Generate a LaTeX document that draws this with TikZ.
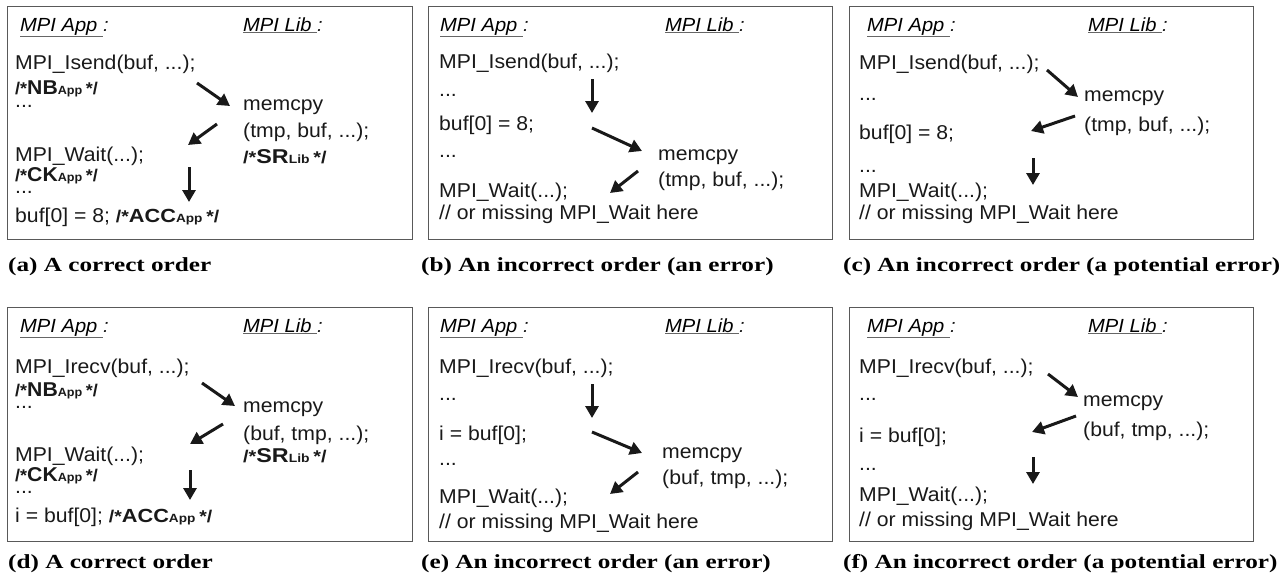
\documentclass[tikz,border=0pt]{standalone}
\usepackage{fontspec}
\usepackage{graphicx}
\setmainfont{Liberation Sans}[FakeStretch=1.06]
\newfontfamily\capfont{Liberation Serif}[FakeStretch=1.26]
\usetikzlibrary{arrows.meta}
\newcommand\cmtline[5]{\scalebox{#5}[1]{\textbf{{\fontsize{#1}{#1}\selectfont/*}{\fontsize{#2}{#2}\selectfont #3}{\fontsize{#1}{#1}\selectfont\fontsize{0.7\dimexpr#1pt\relax}{#1}\selectfont #4\ }{\fontsize{#1}{#1}\selectfont */}}}}
\newcommand\hdrtext[1]{{\color{black!60}\underline{\color{black}#1\ }}:}
\tikzset{
  panel/.style={draw=black!65, line width=1pt},
  txt/.style={anchor=base west, inner sep=0pt, text=black!90, font=\fontsize{20}{22}\selectfont},
  hdr/.style={anchor=base west, inner sep=0pt, text=black!90, font=\fontsize{19}{22}\selectfont\itshape},
  captxt/.style={anchor=base west, inner sep=0pt, font=\capfont\bfseries\fontsize{20}{24}\selectfont},
  flow/.style={-{Triangle[length=12pt,width=13pt]}, line width=3pt, draw=black!90},
}
\begin{document}
\begin{tikzpicture}[x=1pt,y=-1pt]
\useasboundingbox (0,0) rectangle (1282,579);
% ---------------- (a)
\draw[panel] (7,6) rectangle (412,239);
\node[hdr] (aH1) at (20,31) {\hdrtext{MPI App}};
\node[hdr] (aH2) at (243,31) {\hdrtext{MPI Lib}};
\node[txt] (a1) at (15,69) {MPI\_Isend(buf, ...);};
\node[txt] (a2) at (15,94) {\cmtline{17}{20}{NB}{App}{1.0}};
\node[txt] (a3) at (15,107) {...};
\node[txt] (a4) at (243,110) {memcpy};
\node[txt] (a5) at (243,137) {(tmp, buf, ...);};
\node[txt] (a6) at (243,163) {\cmtline{17}{20}{SR}{Lib}{1.1}};
\node[txt] (a7) at (15,161) {MPI\_Wait(...);};
\node[txt] (a8) at (15,181) {\cmtline{17}{20}{CK}{App}{1.0}};
\node[txt] (a9) at (15,193) {...};
\node[txt] (a10) at (15,222) {buf[0] = 8; \cmtline{17}{19}{ACC}{App}{1.08}};
\coordinate (aP1) at (197,83); \coordinate (aQ1) at (230,106);
\coordinate (aP2) at (217,124); \coordinate (aQ2) at (188,145);
\coordinate (aP3) at (189,167); \coordinate (aQ3) at (189,202);
\draw[flow] (aP1) -- (aQ1);
\draw[flow] (aP2) -- (aQ2);
\draw[flow] (aP3) -- (aQ3);
\node[captxt] (capa) at (8,271) {(a) A correct order};
% ---------------- (b)
\draw[panel] (428,6) rectangle (832,239);
\node[hdr] (bH1) at (440,31) {\hdrtext{MPI App}};
\node[hdr] (bH2) at (665,31) {\hdrtext{MPI Lib}};
\node[txt] (b1) at (439,68) {MPI\_Isend(buf, ...);};
\node[txt] (b2) at (439,96) {...};
\node[txt] (b3) at (439,130) {buf[0] = 8;};
\node[txt] (b4) at (439,157) {...};
\node[txt] (b5) at (658,160) {memcpy};
\node[txt] (b6) at (658,186) {(tmp, buf, ...);};
\node[txt] (b7) at (439,197) {MPI\_Wait(...);};
\node[txt] (b8) at (439,219) {// or missing MPI\_Wait here};
\coordinate (bP1) at (592,79); \coordinate (bQ1) at (592,113);
\coordinate (bP2) at (592,128); \coordinate (bQ2) at (642,151);
\coordinate (bP3) at (638,171); \coordinate (bQ3) at (610,193);
\draw[flow] (bP1) -- (bQ1);
\draw[flow] (bP2) -- (bQ2);
\draw[flow] (bP3) -- (bQ3);
\node[captxt] (capb) at (421,271) {(b) An incorrect order (an error)};
% ---------------- (c)
\draw[panel] (849,6) rectangle (1253,239);
\node[hdr] (cH1) at (867,31) {\hdrtext{MPI App}};
\node[hdr] (cH2) at (1088,31) {\hdrtext{MPI Lib}};
\node[txt] (c1) at (859,69) {MPI\_Isend(buf, ...);};
\node[txt] (c2) at (859,100) {...};
\node[txt] (c3) at (1084,101) {memcpy};
\node[txt] (c4) at (1084,131) {(tmp, buf, ...);};
\node[txt] (c5) at (859,139) {buf[0] = 8;};
\node[txt] (c6) at (859,172) {...};
\node[txt] (c7) at (859,197) {MPI\_Wait(...);};
\node[txt] (c8) at (859,219) {// or missing MPI\_Wait here};
\coordinate (cP1) at (1047,70); \coordinate (cQ1) at (1078,97);
\coordinate (cP2) at (1075,116); \coordinate (cQ2) at (1031,131);
\coordinate (cP3) at (1033,158); \coordinate (cQ3) at (1033,185);
\draw[flow] (cP1) -- (cQ1);
\draw[flow] (cP2) -- (cQ2);
\draw[flow] (cP3) -- (cQ3);
\node[captxt] (capc) at (843,271) {(c) An incorrect order (a potential error)};
% ---------------- (d)
\draw[panel] (7,307) rectangle (412,541);
\node[hdr] (dH1) at (20,332) {\hdrtext{MPI App}};
\node[hdr] (dH2) at (243,332) {\hdrtext{MPI Lib}};
\node[txt] (d1) at (15,373) {MPI\_Irecv(buf, ...);};
\node[txt] (d2) at (15,396) {\cmtline{17}{20}{NB}{App}{1.0}};
\node[txt] (d3) at (15,408) {...};
\node[txt] (d4) at (243,412) {memcpy};
\node[txt] (d5) at (243,440) {(buf, tmp, ...);};
\node[txt] (d6) at (243,462) {\cmtline{17}{20}{SR}{Lib}{1.1}};
\node[txt] (d7) at (15,461) {MPI\_Wait(...);};
\node[txt] (d8) at (15,481) {\cmtline{17}{20}{CK}{App}{1.0}};
\node[txt] (d9) at (15,493) {...};
\node[txt] (d10) at (15,522) {i = buf[0]; \cmtline{17}{19}{ACC}{App}{1.08}};
\coordinate (dP1) at (202,383); \coordinate (dQ1) at (235,406);
\coordinate (dP2) at (223,424); \coordinate (dQ2) at (190,444);
\coordinate (dP3) at (190,470); \coordinate (dQ3) at (190,500);
\draw[flow] (dP1) -- (dQ1);
\draw[flow] (dP2) -- (dQ2);
\draw[flow] (dP3) -- (dQ3);
\node[captxt] (capd) at (8,568) {(d) A correct order};
% ---------------- (e)
\draw[panel] (428,307) rectangle (832,541);
\node[hdr] (eH1) at (440,332) {\hdrtext{MPI App}};
\node[hdr] (eH2) at (665,332) {\hdrtext{MPI Lib}};
\node[txt] (e1) at (439,373) {MPI\_Irecv(buf, ...);};
\node[txt] (e2) at (439,400) {...};
\node[txt] (e3) at (439,440) {i = buf[0];};
\node[txt] (e4) at (439,465) {...};
\node[txt] (e5) at (662,458) {memcpy};
\node[txt] (e6) at (662,484) {(buf, tmp, ...);};
\node[txt] (e7) at (439,503) {MPI\_Wait(...);};
\node[txt] (e8) at (439,528) {// or missing MPI\_Wait here};
\coordinate (eP1) at (592,384); \coordinate (eQ1) at (592,418);
\coordinate (eP2) at (592,432); \coordinate (eQ2) at (642,453);
\coordinate (eP3) at (638,472); \coordinate (eQ3) at (610,494);
\draw[flow] (eP1) -- (eQ1);
\draw[flow] (eP2) -- (eQ2);
\draw[flow] (eP3) -- (eQ3);
\node[captxt] (cape) at (421,568) {(e) An incorrect order (an error)};
% ---------------- (f)
\draw[panel] (849,307) rectangle (1253,541);
\node[hdr] (fH1) at (867,332) {\hdrtext{MPI App}};
\node[hdr] (fH2) at (1088,332) {\hdrtext{MPI Lib}};
\node[txt] (f1) at (859,373) {MPI\_Irecv(buf, ...);};
\node[txt] (f2) at (859,400) {...};
\node[txt] (f3) at (1083,406) {memcpy};
\node[txt] (f4) at (1083,436) {(buf, tmp, ...);};
\node[txt] (f5) at (859,442) {i = buf[0];};
\node[txt] (f6) at (859,470) {...};
\node[txt] (f7) at (859,501) {MPI\_Wait(...);};
\node[txt] (f8) at (859,526) {// or missing MPI\_Wait here};
\coordinate (fP1) at (1048,374); \coordinate (fQ1) at (1078,397);
\coordinate (fP2) at (1076,416); \coordinate (fQ2) at (1032,432);
\coordinate (fP3) at (1033,457); \coordinate (fQ3) at (1033,484);
\draw[flow] (fP1) -- (fQ1);
\draw[flow] (fP2) -- (fQ2);
\draw[flow] (fP3) -- (fQ3);
\node[captxt] (capf) at (843,568) {(f) An incorrect order (a potential error)};
\end{tikzpicture}
\end{document}
